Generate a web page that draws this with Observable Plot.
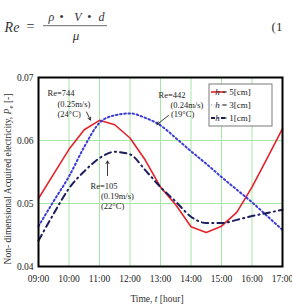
<!DOCTYPE html>
<html><head><meta charset="utf-8">
<script src="https://cdn.jsdelivr.net/npm/d3@7"></script>
<script src="https://cdn.jsdelivr.net/npm/@observablehq/plot@0.6"></script>
<style>
body{margin:0;background:#fff;}
#chart svg{overflow:visible;}
#chart svg, #chart svg text{font-family:"Liberation Serif","DejaVu Serif",serif !important;}
</style></head><body><div id="chart"></div>
<script>
const hours = [9,9.5,10,10.5,11,11.5,12,12.5,13,13.5,14,14.5,15,15.5,16,16.5,17];
const h5 = [0.0508,0.0547,0.0586,0.0617,0.0632,0.0625,0.0604,0.0569,0.0526,0.0498,0.0463,0.0454,0.0464,0.0486,0.0526,0.0572,0.0619];
const h3 = [0.0464,0.0504,0.0543,0.0590,0.0628,0.0640,0.0643,0.0636,0.0624,0.0604,0.0583,0.0563,0.0542,0.0522,0.0502,0.0480,0.0458];
const h1 = [0.0441,0.0484,0.0524,0.0551,0.0572,0.0582,0.0578,0.0553,0.0526,0.0503,0.0479,0.0469,0.0469,0.0474,0.0480,0.0485,0.0490];
const seriesH = ["5","3","1"];
const xTicks = [9,10,11,12,13,14,15,16,17];
const yTicks = [0.04,0.05,0.06,0.07];
const annoLines = [
  {t:"Re=744", x:9.295, y:0.06746},
  {t:"(0.25m/s)", x:9.623, y:0.06579},
  {t:"(24°C)", x:9.623, y:0.06413},
  {t:"Re=442", x:12.934, y:0.06714},
  {t:"(0.24m/s)", x:13.328, y:0.06563},
  {t:"(19°C)", x:13.344, y:0.06421},
  {t:"Re=105", x:10.705, y:0.05270},
  {t:"(0.19m/s)", x:11.049, y:0.05111},
  {t:"(22°C)", x:11.049, y:0.04952}
];
const arrows = [
  {x1:10.574, y1:0.06452, x2:10.705, y2:0.06325},
  {x1:13.262, y1:0.06397, x2:12.885, y2:0.06254},
  {x1:11.262, y1:0.05444, x2:11.262, y2:0.05675}
];

const styles = [
  {stroke:"#e5232b", strokeWidth:1.6, curve:"linear"},
  {stroke:"#3b3bd6", strokeWidth:2, strokeDasharray:"1.6,2.6", curve:"monotone-x"},
  {stroke:"#1c1c5e", strokeWidth:2, strokeDasharray:"6.5,4,1.2,4", curve:"monotone-x"}
];
const seriesVals = [h5,h3,h1];
const rows = seriesVals.map(vals => hours.map((h,i)=>({h, v:vals[i]})));

const fmtHour = d => String(d).padStart(2,"0") + ":00";
const F = '"Liberation Serif","DejaVu Serif",serif';

const chart = Plot.plot({
  width: 292, height: 304,
  marginLeft: 38, marginRight: 10, marginTop: 77, marginBottom: 38,
  style: {fontFamily: F, background:"#fff"},
  x: {domain:[9,17]},
  y: {domain:[0.04,0.07]},
  marks: [
    Plot.gridX(xTicks, {stroke:"#a6e6a6", strokeOpacity:1, strokeWidth:1}),
    Plot.gridY(yTicks, {stroke:"#a6e6a6", strokeOpacity:1, strokeWidth:1}),
    ...rows.map((r,i)=>Plot.line(r, {x:"h", y:"v", ...styles[i]})),
    Plot.text(annoLines, {x:"x", y:"y", text:"t", textAnchor:"start", fontSize:8.5, fill:"#222"}),
    Plot.arrow(arrows, {x1:"x1", y1:"y1", x2:"x2", y2:"y2", bend:0, headLength:5, strokeWidth:0.9, stroke:"#222"}),
    Plot.frame({stroke:"#000", strokeWidth:2}),
    Plot.axisX(xTicks, {tickSize:0, tickPadding:9, tickFormat:fmtHour, fontSize:9.5, label:null, fill:"#222"}),
    Plot.axisY(yTicks, {tickSize:0, tickPadding:5, tickFormat:d3.format(".2f"), fontSize:9.5, label:null, fill:"#222"})
  ]
});
document.getElementById("chart").append(chart);

const svg = d3.select(chart);
// Formula
const g = svg.append("g").attr("font-family", F).attr("fill", "#333");
g.append("text").attr("x",12).attr("y",31.5).attr("font-size",14).attr("font-style","italic").text("Re");
g.append("text").attr("x",30.5).attr("y",31).attr("font-size",14).text("=");
g.append("line").attr("x1",43).attr("x2",107).attr("y1",25.7).attr("y2",25.7).attr("stroke","#444").attr("stroke-width",0.8);
[["ρ",51.5,true],["•",61.7,false],["V",78,true],["•",89.3,false],["d",101.5,true]].forEach(([t,x,it])=>{
  g.append("text").attr("x",x).attr("y",21).attr("font-size",12).attr("text-anchor","middle")
   .attr("font-style", it?"italic":"normal").text(t);
});
g.append("text").attr("x",76).attr("y",39.5).attr("font-size",13).attr("text-anchor","middle").attr("font-style","italic").text("μ");
g.append("text").attr("x",277).attr("y",31).attr("font-size",13).text("(1");

// Axis titles
const xt = svg.append("text").attr("x",157).attr("y",302).attr("font-size",9.5).attr("text-anchor","middle").attr("font-family",F).attr("fill","#333");
xt.append("tspan").text("Time, ");
xt.append("tspan").attr("font-style","italic").text("t");
xt.append("tspan").text(" [hour]");

const yt = svg.append("text").attr("transform","translate(11,179) rotate(-90)").attr("font-size",9.5).attr("text-anchor","middle").attr("font-family",F).attr("fill","#333");
yt.append("tspan").text("Non- dimensional Acquired electricity, ");
yt.append("tspan").attr("font-style","italic").text("P");
yt.append("tspan").attr("font-size",7).attr("dy",2).text("e");
yt.append("tspan").attr("dy",-2).text(" [-]");

// Legend
const lg = svg.append("g").attr("font-family",F);
lg.append("rect").attr("x",209).attr("y",84).attr("width",63).attr("height",42).attr("fill","#fff").attr("stroke","#7a7a7a").attr("stroke-width",1);
const legStyles = [
  {stroke:"#e5232b", w:1.6, dash:null},
  {stroke:"#8f8fe6", w:1.2, dash:"1,2.5"},
  {stroke:"#1c1c5e", w:2.2, dash:"4,2.5,1,2.5"}
];
seriesH.forEach((h,i)=>{
  const y = 92 + i*13;
  const s = legStyles[i];
  lg.append("line").attr("x1",211).attr("x2",225).attr("y1",y).attr("y2",y)
    .attr("stroke",s.stroke).attr("stroke-width",s.w).attr("stroke-dasharray",s.dash);
  const t = lg.append("text").attr("x",233).attr("y",y+3.2).attr("font-size",9).attr("fill","#222").attr("xml:space","preserve");
  t.append("tspan").attr("font-style","italic").text("h");
  t.append("tspan").text(" = " + h + "[cm]");
});
</script></body></html>
